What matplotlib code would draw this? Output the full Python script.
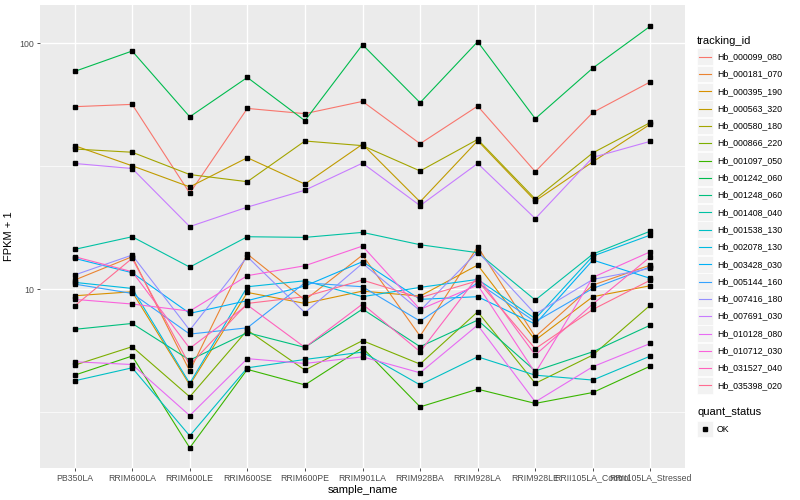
import numpy as np
import matplotlib
matplotlib.use('Agg')
import matplotlib.pyplot as plt
from matplotlib.patches import Rectangle
from matplotlib.lines import Line2D

plt.rcParams['font.family'] = ['Liberation Sans', 'DejaVu Sans']

samples = ['PB350LA', 'RRIM600LA', 'RRIM600LE', 'RRIM600SE', 'RRIM600PE', 'RRIM901LA',
           'RRIM928BA', 'RRIM928LA', 'RRIM928LE', 'RRII105LA_Control', 'RRII105LA_Stressed']

tracking_ids = ['Hb_000099_080', 'Hb_000181_070', 'Hb_000395_190', 'Hb_000563_320', 'Hb_000580_180',
                'Hb_000866_220', 'Hb_001097_050', 'Hb_001242_060', 'Hb_001248_060', 'Hb_001408_040',
                'Hb_001538_130', 'Hb_002078_130', 'Hb_003428_030', 'Hb_005144_160', 'Hb_007416_180',
                'Hb_007691_030', 'Hb_010128_080', 'Hb_010712_030', 'Hb_031527_040', 'Hb_035398_020']

# FPKM + 1 per gene, one value per sample
Hb_000099_080 = [55.3, 56.5, 24.6, 54.4, 51.8, 58.1, 39.1, 55.6, 30.1, 52.4, 69.8]
Hb_000181_070 = [10.91, 13.58, 4.66, 13.92, 9.05, 13.79, 6.46, 14.91, 6.42, 10.41, 12.56]
Hb_000395_190 = [9.42, 9.78, 4.09, 9.72, 8.77, 9.84, 9.39, 12.56, 6.22, 9.34, 10.35]
Hb_000563_320 = [38.4, 31.8, 26.1, 34.3, 26.8, 38.9, 22.7, 40.2, 22.9, 33.0, 47.0]
Hb_000580_180 = [37.2, 36.1, 29.3, 27.4, 40.1, 38.4, 30.3, 40.7, 23.3, 35.9, 47.7]
Hb_000866_220 = [4.92, 5.85, 3.66, 6.83, 4.70, 6.19, 4.97, 8.11, 4.15, 5.41, 8.64]
Hb_001097_050 = [4.48, 5.36, 2.27, 4.73, 4.09, 5.79, 3.33, 3.93, 3.44, 3.81, 4.88]
Hb_001242_060 = [76.9, 93.1, 50.3, 72.7, 48.5, 98.8, 57.4, 101.6, 49.4, 79.4, 117.6]
Hb_001248_060 = [6.88, 7.27, 5.16, 6.67, 5.81, 8.32, 5.85, 7.50, 4.66, 5.58, 7.16]
Hb_001408_040 = [14.54, 16.37, 12.32, 16.37, 16.27, 17.05, 15.19, 14.10, 9.05, 13.92, 17.26]
Hb_001538_130 = [4.25, 4.80, 2.54, 4.80, 5.19, 5.56, 4.09, 5.32, 4.48, 4.28, 5.36]
Hb_002078_130 = [10.68, 10.09, 4.15, 10.25, 10.84, 9.34, 10.19, 10.98, 7.60, 13.66, 16.63]
Hb_003428_030 = [13.37, 11.69, 7.99, 9.00, 10.32, 12.96, 9.11, 9.34, 7.23, 13.16, 11.08]
Hb_005144_160 = [10.51, 9.63, 6.58, 6.98, 10.64, 10.25, 7.43, 10.64, 7.39, 10.09, 12.36]
Hb_007416_180 = [11.44, 13.79, 6.83, 13.58, 8.04, 12.76, 8.19, 14.23, 7.94, 10.98, 12.17]
Hb_007691_030 = [32.5, 31.0, 18.0, 21.6, 25.3, 32.6, 21.9, 32.5, 19.4, 34.4, 40.0]
Hb_010128_080 = [5.08, 4.95, 3.07, 5.23, 5.00, 5.32, 4.58, 7.16, 3.49, 4.85, 6.03]
Hb_010712_030 = [9.11, 8.72, 8.16, 11.37, 12.48, 15.00, 8.29, 10.41, 4.58, 11.19, 14.23]
Hb_031527_040 = [13.58, 11.80, 5.76, 8.64, 5.81, 8.72, 5.58, 11.26, 5.41, 8.72, 13.58]
Hb_035398_020 = [8.56, 13.37, 4.92, 8.77, 9.34, 10.91, 9.25, 10.84, 5.74, 8.29, 10.91]

fpkm = [Hb_000099_080, Hb_000181_070, Hb_000395_190, Hb_000563_320, Hb_000580_180,
        Hb_000866_220, Hb_001097_050, Hb_001242_060, Hb_001248_060, Hb_001408_040,
        Hb_001538_130, Hb_002078_130, Hb_003428_030, Hb_005144_160, Hb_007416_180,
        Hb_007691_030, Hb_010128_080, Hb_010712_030, Hb_031527_040, Hb_035398_020]

# ggplot2 default hue palette for 20 levels
colors = ["#F8766D", "#EA8331", "#D89000", "#C09B00", "#A3A500", "#7CAE00", "#39B600",
          "#00BB4E", "#00BF7D", "#00C1A3", "#00BFC4", "#00BAE0", "#00B0F6", "#35A2FF",
          "#9590FF", "#C77CFF", "#E76BF3", "#FA62DB", "#FF62BC", "#FF6C91"]

W, H = 800, 500
fig = plt.figure(figsize=(8, 5), dpi=100)
ax = fig.add_axes([40 / W, 32 / H, 645 / W, 463 / H])
ax.set_facecolor('#EBEBEB')
for s in ax.spines.values():
    s.set_visible(False)

x = np.arange(len(samples))
for index in range(len(fpkm)):
    ax.plot(x, fpkm[index], color=colors[index], lw=0.8, zorder=3)
for index in range(len(fpkm)):
    ax.plot(x, fpkm[index], ls='none', marker='s', ms=2.6, color='black', zorder=4)

ax.set_yscale('log')
ax.set_ylim(10 ** 0.274, 10 ** 2.156)
ax.set_xlim(-0.6, len(samples) - 0.4)
ax.set_yticks([10, 100])
ax.set_yticklabels(['10', '100'])
ax.set_yticks([10 ** 0.5, 10 ** 1.5], minor=True)
ax.yaxis.set_minor_formatter(matplotlib.ticker.NullFormatter())
ax.set_xticks(x)
ax.set_xticklabels(samples)
ax.tick_params(axis='both', which='major', length=2.5, width=0.6, color='#333333',
               labelsize=6.3, labelcolor='#4D4D4D', pad=1.5)
ax.tick_params(axis='y', which='minor', length=0)
ax.grid(True, which='major', color='white', lw=1.0, zorder=0)
ax.grid(True, which='minor', axis='y', color='white', lw=0.5, zorder=0)
ax.set_axisbelow(True)

ax.set_xlabel('sample_name', fontsize=8, color='black', labelpad=2)
ax.set_ylabel('FPKM + 1', fontsize=8, color='black', labelpad=4)

# legend, drawn ggplot-style in pixel positions
def fx(px):
    return px / W

def fy(py):
    return 1 - py / H

fig.text(fx(697), fy(41), 'tracking_id', fontsize=8, va='center', ha='left')
for i, name in enumerate(tracking_ids):
    yc = 56.7 + 17.3 * i
    fig.add_artist(Rectangle((fx(697), fy(yc + 8.3)), 16 / W, 16.6 / H,
                             transform=fig.transFigure, facecolor='#F2F2F2', edgecolor='white', lw=0.5))
    fig.add_artist(Line2D([fx(699), fx(711)], [fy(yc), fy(yc)], transform=fig.transFigure,
                          color=colors[i], lw=0.8))
    fig.text(fx(717), fy(yc), name, fontsize=6.3, va='center', ha='left')

fig.text(fx(697), fy(412), 'quant_status', fontsize=8, va='center', ha='left')
fig.add_artist(Rectangle((fx(697), fy(429 + 8.3)), 16 / W, 16.6 / H,
                         transform=fig.transFigure, facecolor='#F2F2F2', edgecolor='white', lw=0.5))
fig.add_artist(Line2D([fx(705)], [fy(429)], transform=fig.transFigure, ls='none',
                      marker='s', ms=2.6, color='black'))
fig.text(fx(717), fy(429), 'OK', fontsize=6.3, va='center', ha='left')

plt.savefig('out.png', dpi=100)
plt.close()
